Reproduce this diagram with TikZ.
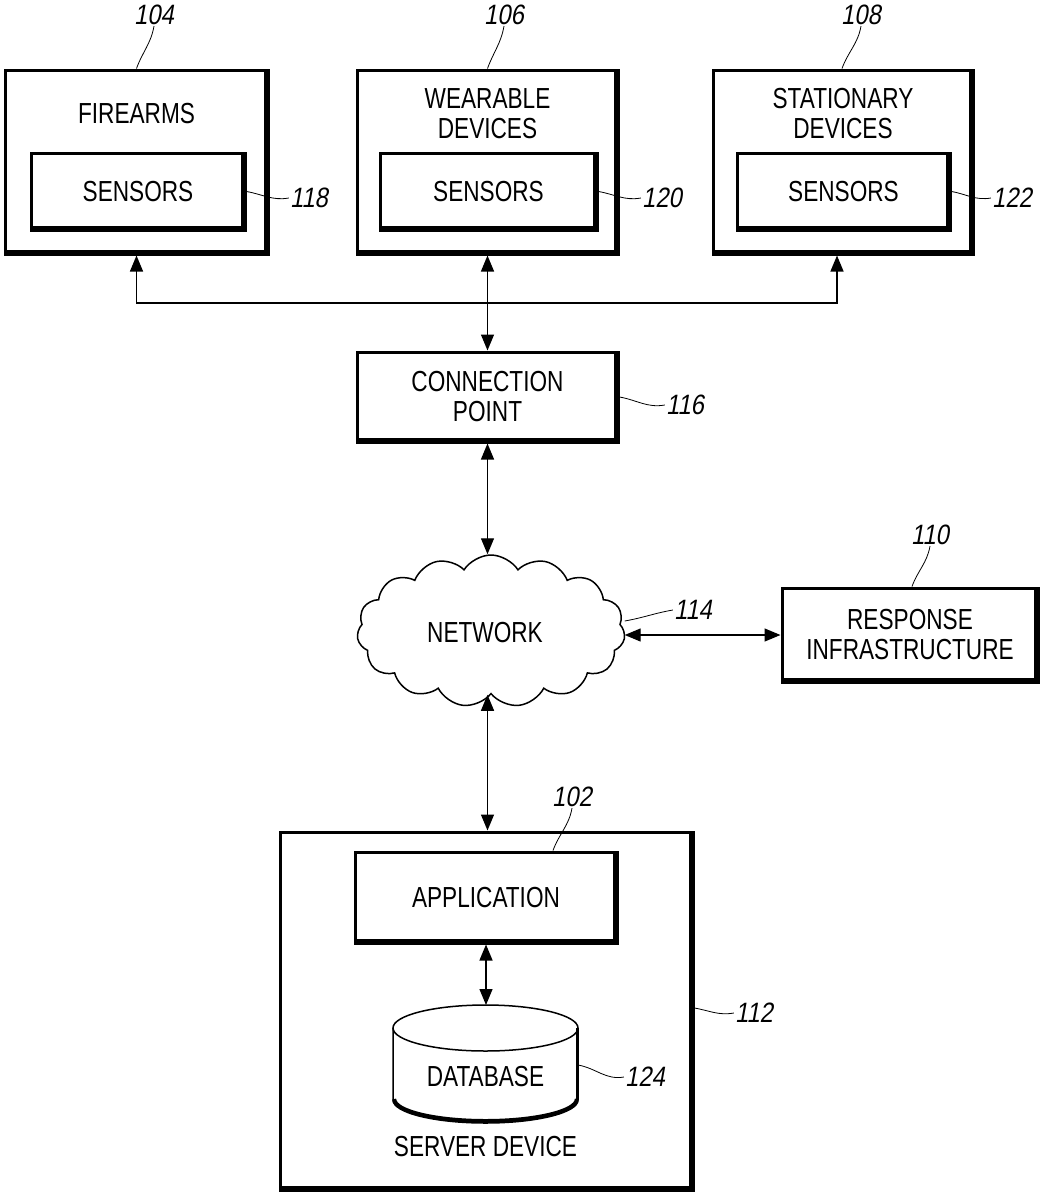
\documentclass[tikz,border=0pt]{standalone}
\usepackage{fontspec}
\setmainfont{Liberation Sans}
\newfontfamily\boxfont[FakeStretch=0.78]{Liberation Sans}
\newfontfamily\numfont[FakeStretch=0.85,FakeSlant=0.18]{Liberation Sans}
\usetikzlibrary{arrows.meta,shapes.symbols,calc}
\begin{document}
\begin{tikzpicture}[x=1pt,y=1pt,
  txt/.style={font=\boxfont\fontsize{29}{30}\selectfont, align=center, inner sep=0pt},
  num/.style={font=\numfont\fontsize{28}{30}\selectfont, inner sep=1pt},
  pbox/.style={draw, line width=3pt, inner sep=0pt, txt,
    path picture={\draw[line width=9pt] (path picture bounding box.north east) -- (path picture bounding box.south east) -- (path picture bounding box.south west);}},
  tip/.tip={Triangle[length=16pt,width=13pt]},
  arr/.style={line width=1.3pt, -tip},
  dbl/.style={line width=1.3pt, tip-tip},
  leader/.style={line width=0.8pt}
]
\fill[white] (0,0) rectangle (1048,-1200);
\useasboundingbox (0,0) rectangle (1048,-1200);

% top row
\node[pbox, minimum width=263pt, minimum height=184pt] (fire) at (136.5,-162) {};
\node[txt] (fireT) at (136.5,-114) {FIREARMS};
\node[pbox, minimum width=214pt, minimum height=77pt] (fireS) at (138,-191.5) {SENSORS};

\node[pbox, minimum width=261pt, minimum height=184pt] (wear) at (487.5,-162) {};
\node[txt] (wearT) at (487.5,-114) {WEARABLE\\DEVICES};
\node[pbox, minimum width=217pt, minimum height=77pt] (wearS) at (488.5,-191.5) {SENSORS};

\node[pbox, minimum width=260pt, minimum height=184pt] (stat) at (843,-162) {};
\node[txt] (statT) at (843,-114) {STATIONARY\\DEVICES};
\node[pbox, minimum width=213pt, minimum height=77pt] (statS) at (843.5,-191.5) {SENSORS};

% connection point
\node[pbox, minimum width=261pt, minimum height=90pt] (cp) at (487.5,-397) {CONNECTION\\POINT};

% network cloud
\node[cloud, draw, line width=1.5pt, cloud puffs=15, cloud puff arc=115, cloud ignores aspect,
      minimum width=268pt, minimum height=152pt, inner sep=0pt] (net) at (491,-631) {};
\node[txt] (netT) at (485,-633) {NETWORK};

% response infrastructure
\node[pbox, minimum width=256pt, minimum height=94pt] (resp) at (910,-635) {RESPONSE\\INFRASTRUCTURE};

% server device
\node[pbox, minimum width=413pt, minimum height=358pt] (srv) at (486.5,-1011) {};
\node[pbox, minimum width=262pt, minimum height=91pt] (app) at (486,-897.5) {APPLICATION};
\node[minimum width=185pt, minimum height=118pt, inner sep=0pt, outer sep=0pt] (db) at (485.5,-1064) {};
\draw[line width=1.5pt] ($(db.north)+(0,-23)$) ellipse [x radius=92.5, y radius=23];
\draw[line width=1.5pt] ($(db.north west)+(0,-23)$) -- ($(db.south west)+(0,23)$)
   arc[start angle=180,end angle=360,x radius=92.5,y radius=23] -- ($(db.north east)+(0,-23)$);
\draw[line width=4pt] ($(db.south west)+(1.2,24)$) arc[start angle=180,end angle=360,x radius=91.3,y radius=22];
\draw[line width=3pt] ($(db.north east)+(-0.7,-23)$) -- ($(db.south east)+(-0.7,23)$);
\node[txt] (dbT) at (485.5,-1077) {DATABASE};
\node[txt] (srvT) at (485.5,-1147) {SERVER DEVICE};

% connectors
\coordinate (jn) at ($(wear.south)!0.5!(cp.north)$);
\draw[dbl] (wear.south) -- (cp.north);
\draw[arr] (jn) -| (fire.south);
\draw[arr] (jn) -| ($(stat.south)+(-6,0)$);
\draw[dbl] (cp.south) -- (cp.south |- net.north);
\draw[dbl] (resp.west -| net.east) -- (resp.west);
\draw[dbl] (cp.south |- net.south) -- (cp.south |- srv.north);
\draw[dbl] (app.south) -- (app.south |- db.north);

% reference labels
\node[num] (l104) at (154,-15) {104};
\node[num] (l106) at (504,-15) {106};
\node[num] (l108) at (861,-15) {108};
\node[num] (l118) at (309,-198) {118};
\node[num] (l120) at (662,-198) {120};
\node[num] (l122) at (1012,-198) {122};
\node[num] (l116) at (685,-405) {116};
\node[num] (l110) at (930,-535) {110};
\node[num] (l114) at (693,-610) {114};
\node[num] (l102) at (572,-797) {102};
\node[num] (l112) at (754,-1013) {112};
\node[num] (l124) at (645,-1077) {124};

\draw[leader] (fire.north) to[out=70,in=-100] (l104.south);
\draw[leader] (wear.north) to[out=70,in=-100] (l106.south);
\draw[leader] ($(stat.north)+(-1,0)$) to[out=70,in=-100] (l108.south);
\draw[leader] (fireS.east) to[out=-10,in=190] (l118.west);
\draw[leader] (wearS.east) to[out=-10,in=190] (l120.west);
\draw[leader] (statS.east) to[out=-10,in=190] (l122.west);
\draw[leader] (cp.east) to[out=-10,in=190] (l116.west);
\draw[leader] ($(resp.north)+(2,0)$) to[out=70,in=-100] (l110.south);
\draw[leader] ($(net.east)+(0,10)$) to[out=10,in=190] (l114.west);
\draw[leader] ($(app.north)+(67,0)$) to[out=70,in=-100] (l102.south);
\draw[leader] ($(srv.east)+(0,3)$) to[out=-10,in=190] (l112.west);
\draw[leader] ($(db.east)+(0,-1)$) to[out=-10,in=190] (l124.west);
\end{tikzpicture}
\end{document}
